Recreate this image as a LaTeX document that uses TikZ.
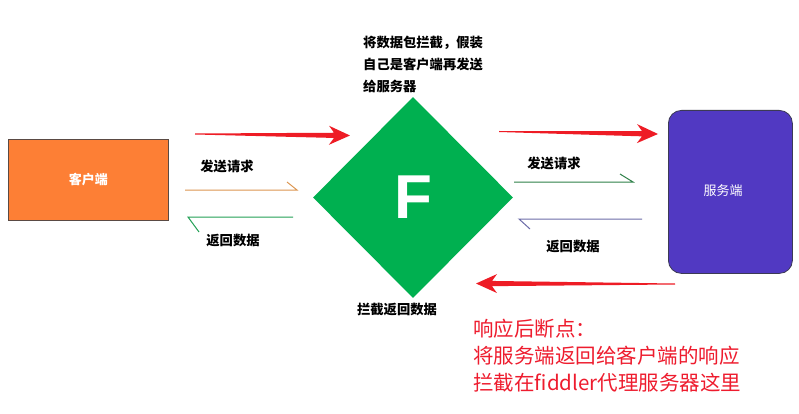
\documentclass[tikz,border=0pt]{standalone}
\usepackage{fontspec}
\setmainfont{Liberation Sans}
\newfontfamily\cjk{Noto Sans CJK SC}
\usetikzlibrary{shapes.geometric,calc}
\definecolor{clientorange}{HTML}{FD7F35}
\definecolor{clientedge}{HTML}{5A4A44}
\definecolor{serverfill}{HTML}{5139C2}
\definecolor{serveredge}{HTML}{3C3A55}
\definecolor{fgreen}{HTML}{00B050}
\definecolor{arrowred}{HTML}{EE1C25}
\definecolor{notered}{HTML}{EE1C2E}
\definecolor{lineorange}{HTML}{DC9650}
\definecolor{linegreenA}{HTML}{22A055}
\definecolor{linegreenB}{HTML}{2E8048}
\definecolor{linepurple}{HTML}{6C6CA8}
\newcommand\redarrow[2]{%
  \path let \p1=(#1), \p2=(#2), \n1={atan2(\y2-\y1,\x2-\x1)}, \n2={veclen(\x2-\x1,\y2-\y1)} in
    \pgfextra{\xdef\raang{\n1}\xdef\ralen{\n2}};
  \begin{scope}[shift={(#1)}, rotate=\raang]
    \fill[arrowred] (0pt,-0.5pt) -- ({\ralen-16pt},-2.6pt) -- ({\ralen-21pt},-9.5pt)
      -- ({\ralen},0pt) -- ({\ralen-21pt},9.5pt) -- ({\ralen-16pt},2.6pt) -- (0pt,0.5pt) -- cycle;
  \end{scope}}
\begin{document}
\begin{tikzpicture}[x=1pt,y=-1pt,
  lbl/.style={font=\cjk\bfseries\fontsize{13.3}{16}\selectfont, text=black, inner sep=0pt},
  boxtext/.style={font=\cjk\fontsize{13}{16}\selectfont, text=white},
  note/.style={font=\cjk\fontsize{20.5}{24}\selectfont, text=notered, inner sep=0pt, anchor=base west},
  thinline/.style={line width=1pt}]
\useasboundingbox (0,0) rectangle (799,414);
\fill[white] (0,0) rectangle (799,414);

% boxes
\node[draw=clientedge, line width=0.8pt, fill=clientorange, minimum width=160pt, minimum height=81pt,
      inner sep=0pt, anchor=north west, boxtext, font=\cjk\bfseries\fontsize{13}{16}\selectfont] (client) at (8,139) {客户端};
\node[draw=serveredge, line width=0.8pt, fill=serverfill, rounded corners=13pt, minimum width=124pt,
      minimum height=163pt, inner sep=0pt, anchor=north west, boxtext] (server) at (668,110) {};
\node[boxtext] (servertext) at (723,191) {服务端};

% diamond
\node[diamond, fill=fgreen, minimum width=200pt, minimum height=201pt, inner sep=0pt,
      text=white, font=\bfseries\fontsize{62}{62}\selectfont] (F) at (413,197.5) {F};

% text above diamond
\node[lbl, anchor=base west] (t1) at (363,48) {将数据包拦截，假装};
\node[lbl, anchor=base west] (t2) at (363,70) {自己是客户端再发送};
\node[lbl, anchor=base west] (t3) at (363,92) {给服务器};
\node[lbl] (t4) at (397,309) {拦截返回数据};

% labels
\node[lbl] (sendL) at (227,166) {发送请求};
\node[lbl] (backL) at (233,240) {返回数据};
\node[lbl] (sendR) at (554,163) {发送请求};
\node[lbl] (backR) at (573,246) {返回数据};

% harpoon lines
\coordinate (o1) at (185,190); \coordinate (o2) at (297,190);
\draw[thinline, lineorange] (o1) -- (o2) -- ++(-10,-8);
\coordinate (g1) at (293,217); \coordinate (g2) at (188,217);
\draw[thinline, linegreenA] (g1) -- (g2) -- ++(11,15);
\coordinate (h1) at (514,182); \coordinate (h2) at (633,182);
\draw[thinline, linegreenB] (h1) -- (h2) -- ++(-13,-8);
\coordinate (p1) at (642,219); \coordinate (p2) at (519,219);
\draw[thinline, linepurple] (p1) -- (p2) -- ++(11,10);

% red arrows
\coordinate (a1s) at (195,134); \coordinate (a1e) at (350,135.5);
\redarrow{a1s}{a1e}
\coordinate (a2s) at (499,131.5); \coordinate (a2e) at (658,134);
\redarrow{a2s}{a2e}
\coordinate (a3s) at (675,284); \coordinate (a3e) at (476,283.5);
\redarrow{a3s}{a3e}

% red note
\node[note] (n1) at (473,336) {响应后断点：};
\node[note] (n2) at (473,363) {将服务端返回给客户端的响应};
\node[note] (n3) at (473,390) {拦截在fiddler代理服务器这里};
\end{tikzpicture}
\end{document}
